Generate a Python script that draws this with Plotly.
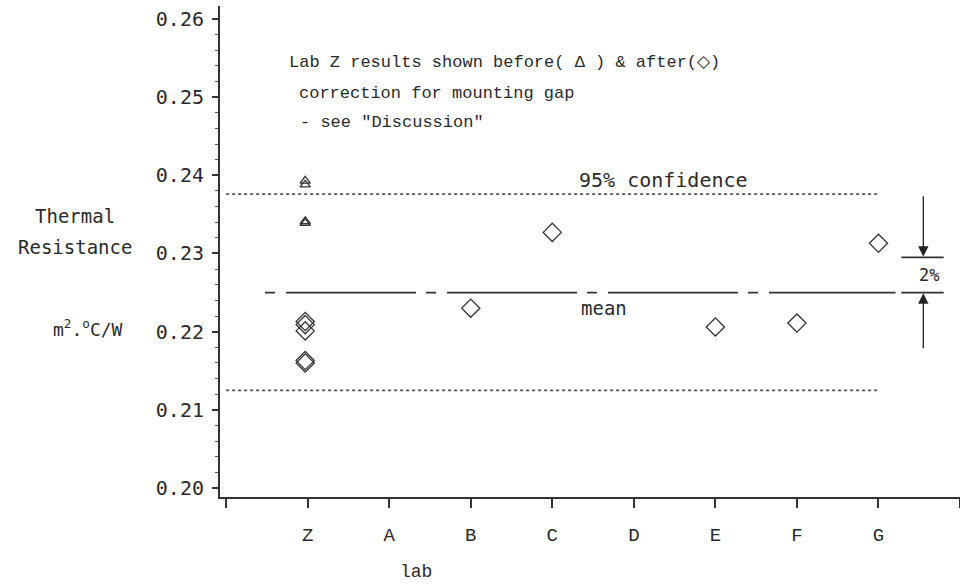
import plotly.graph_objects as go

# ---------------- data ----------------
labs = ["Z", "A", "B", "C", "D", "E", "F", "G"]
lab_pos = [1, 2, 3, 4, 5, 6, 7, 8]

z_before = [0.2393, 0.2388, 0.2341, 0.2339]          # triangles (before correction)
z_after = [0.2213, 0.2209, 0.2201, 0.2163, 0.2160]    # diamonds (after correction)

other_labs = ["B", "C", "E", "F", "G"]
other_vals = [0.2230, 0.2327, 0.2206, 0.2211, 0.2313]

mean_val = 0.225
conf_upper = 0.2376
conf_lower = 0.2125
pct2_val = 0.2295

y_ticks = [0.20, 0.21, 0.22, 0.23, 0.24, 0.25, 0.26]
y_ticklabels = ["0.20", "0.21", "0.22", "0.23", "0.24", "0.25", "0.26"]

# ---------------- figure ----------------
INK = "#2a2a2a"
MONO = "DejaVu Sans Mono"
NARROW = "Liberation Mono"

pos = dict(zip(labs, lab_pos))
fig = go.Figure()

# confidence lines (dotted)
for v in (conf_upper, conf_lower):
    fig.add_trace(go.Scatter(x=[0, 8], y=[v, v], mode="lines",
                             line=dict(color="#555555", width=1.8, dash="dot"),
                             hoverinfo="skip", showlegend=False))

# mean line (long dash - short dash)
fig.add_trace(go.Scatter(x=[0.477, 8.21], y=[mean_val, mean_val], mode="lines",
                         line=dict(color="#333333", width=1.8, dash="10px,11px,130px,10px"),
                         hoverinfo="skip", showlegend=False))

# 2% bracket lines
for v in (pct2_val, mean_val):
    fig.add_trace(go.Scatter(x=[8.28, 8.80], y=[v, v], mode="lines",
                             line=dict(color="#333333", width=1.8),
                             hoverinfo="skip", showlegend=False))

# Lab Z before (triangles)
fig.add_trace(go.Scatter(x=[pos["Z"] - 0.03] * len(z_before), y=z_before, mode="markers",
                         marker=dict(symbol="triangle-up-open", size=9, color="#333333",
                                     line=dict(width=1.3)),
                         showlegend=False))
# Lab Z after (diamonds)
fig.add_trace(go.Scatter(x=[pos["Z"] - 0.03] * len(z_after), y=z_after, mode="markers",
                         marker=dict(symbol="diamond-open", size=14, color="#333333",
                                     line=dict(width=1.3)),
                         showlegend=False))
# other labs
fig.add_trace(go.Scatter(x=[pos[l] for l in other_labs], y=other_vals, mode="markers",
                         marker=dict(symbol="diamond-open", size=14, color="#333333",
                                     line=dict(width=1.3)),
                         showlegend=False))

annotations = []
# arrows for the 2% bracket
annotations.append(dict(x=8.55, y=pct2_val + 0.0001, ax=8.55, ay=0.2375, xref="x", yref="y",
                        axref="x", ayref="y", text="", showarrow=True, arrowhead=2,
                        arrowsize=1.6, arrowwidth=1.3, arrowcolor="#222222"))
annotations.append(dict(x=8.55, y=mean_val - 0.0001, ax=8.55, ay=0.2177, xref="x", yref="y",
                        axref="x", ayref="y", text="", showarrow=True, arrowhead=2,
                        arrowsize=1.6, arrowwidth=1.3, arrowcolor="#222222"))

def txt(x, y, s, size, family, xanchor="left", xref="x", yref="y"):
    annotations.append(dict(x=x, y=y, xref=xref, yref=yref, text=s, showarrow=False,
                            xanchor=xanchor, yanchor="middle",
                            font=dict(family=family, size=size, color=INK)))

txt(8.62, 0.22725, "2%", 17, MONO, xanchor="center")
txt(4.30, 0.2394, "95% confidence", 20, MONO)
txt(4.33, 0.22303, "mean", 19, MONO)

txt(0.746, 0.25437, "Lab Z results shown before( \u0394 ) & after(\u25c7)", 17, NARROW)
txt(0.869, 0.25053, "correction for mounting gap", 17, NARROW)
txt(0.881, 0.24682, "- see \"Discussion\"", 17, NARROW)

# axis titles
txt(-0.196, 0.572, "Thermal", 19, MONO, xanchor="center", xref="paper", yref="paper")
txt(-0.196, 0.509, "Resistance", 19, MONO, xanchor="center", xref="paper", yref="paper")
txt(-0.178, 0.344, "m<sup>2</sup>.<sup>o</sup>C/W", 18, MONO, xanchor="center",
    xref="paper", yref="paper")
txt(0.265, -0.152, "lab", 18, NARROW, xanchor="center", xref="paper", yref="paper")

fig.update_layout(
    width=960, height=584,
    margin=dict(l=220, r=0, t=6, b=87),
    paper_bgcolor="white", plot_bgcolor="white",
    showlegend=False,
    annotations=annotations,
    xaxis=dict(range=[-0.075, 9.0], showgrid=False, zeroline=False,
               showline=True, linecolor="#333333", linewidth=2,
               tickmode="array", tickvals=[0] + lab_pos + [9],
               ticktext=[""] + labs + [""],
               ticks="outside", ticklen=9, tickwidth=1.5, tickcolor="#333333",
               ticklabelstandoff=10,
               tickfont=dict(family=NARROW, size=19, color=INK)),
    yaxis=dict(range=[0.19885, 0.26166], showgrid=False, zeroline=False,
               showline=True, linecolor="#333333", linewidth=2,
               tickmode="array", tickvals=y_ticks, ticktext=y_ticklabels,
               ticks="outside", ticklen=6, tickwidth=1.5, tickcolor="#333333",
               ticklabelstandoff=4,
               tickfont=dict(family=MONO, size=20, color=INK),
               minor=dict(dtick=0.002, tick0=0.20, ticks="outside", ticklen=3,
                          tickwidth=1, tickcolor="#555555")),
)

fig.write_html("out.html")
